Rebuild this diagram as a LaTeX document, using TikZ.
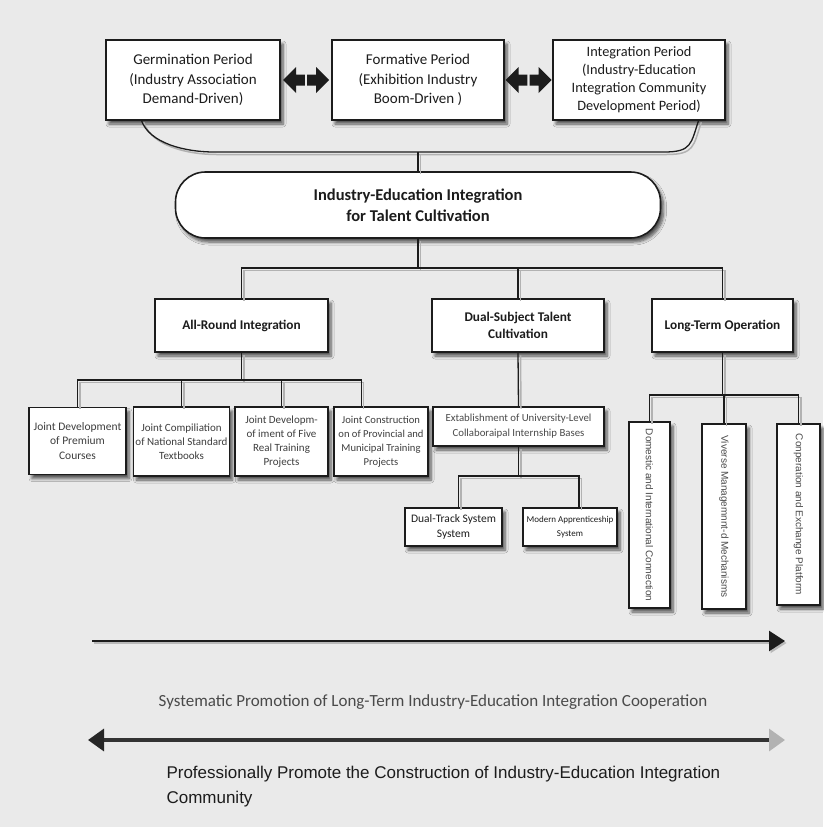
\documentclass[tikz,border=0pt]{standalone}
\usepackage{fontspec}
\setmainfont{Carlito}
\newfontfamily\arialf{Liberation Sans}
\usetikzlibrary{shadows.blur,arrows.meta,calc}

\definecolor{paper}{HTML}{EAEAEA}
\definecolor{ink}{HTML}{1C1C1C}
\definecolor{softink}{HTML}{4A4A4A}

\tikzset{
  box/.style={draw=ink, line width=1.6pt, fill=white, inner sep=2pt, align=center, text=ink,
    blur shadow={shadow xshift=3pt, shadow yshift=-4pt, shadow opacity=65,
                 shadow blur steps=6, shadow blur radius=3pt}},
  link/.style={draw=ink, line width=1.3pt,
    preaction={draw=gray!60, line width=1.5pt, transform canvas={shift={(2.5pt,-2.5pt)}}}},
  toptxt/.style={font=\fontsize{15}{19.5}\selectfont},
  headtxt/.style={font=\bfseries\fontsize{13.3}{16.5}\selectfont},
  smalltxt/.style={font=\fontsize{11}{14}\selectfont, text=ink!85},
  vtxt/.style={font=\arialf\fontsize{10}{12}\selectfont, text=softink},
}

\begin{document}
\begin{tikzpicture}[x=1pt, y=-1pt]
\useasboundingbox (0,0) rectangle (823,827);
\fill[paper] (0,0) rectangle (823,827);

% three development periods
\node[box, toptxt, minimum width=174pt, minimum height=80pt] (g1) at (193,80)
  {Germination Period\\(Industry Association\\Demand-Driven)};
\node[box, toptxt, minimum width=172pt, minimum height=80pt] (g2) at (418,80)
  {Formative Period\\(Exhibition Industry\\Boom-Driven )};
\node[box, minimum width=172pt, minimum height=80pt, font=\fontsize{14.3}{18}\selectfont] (g3) at (639,80)
  {Integration Period\\(Industry-Education\\Integration Community\\Development Period)};

% double-headed arrows between the periods
\foreach \a/\b/\m in {g1/g2/m1, g2/g3/m2}{
  \coordinate (\m) at ($(\a.east)!0.5!(\b.west)$);
  \fill[ink] ($(\m)+(-23,0)$) -- ++(13,-13) -- ++(0,7.5) -- ($(\m)+(-1.2,-5.5)$) -- ($(\m)+(-1.2,5.5)$)
     -- ($(\m)+(-10,5.5)$) -- ++(0,7.5) -- cycle;
  \fill[ink] ($(\m)+(23,0)$) -- ++(-13,-13) -- ++(0,7.5) -- ($(\m)+(1.2,-5.5)$) -- ($(\m)+(1.2,5.5)$)
     -- ($(\m)+(10,5.5)$) -- ++(0,7.5) -- cycle;
}

% bracket gathering the periods
\draw[link] ($(g1.south west)+(36pt,1pt)$) .. controls +(8,24) and +(-28,0) .. (214,152)
  -- (664,152) .. controls +(28,0) and +(-8,24) .. ($(g3.south east)+(-27pt,1pt)$);

% central goal
\node[box, rounded corners=30pt, minimum width=485pt, minimum height=66pt,
      font=\bfseries\fontsize{16.5}{21}\selectfont] (main) at (418,205)
  {Industry-Education Integration\\for Talent Cultivation};
\draw[link] (main.north |- 0,152) -- (main.north);

% three pillars
\node[box, headtxt, minimum width=173pt, minimum height=53pt] (all) at (241.5,325.5) {All-Round Integration};
\node[box, headtxt, minimum width=172pt, minimum height=53pt] (dual) at (518,325.5) {Dual-Subject Talent\\Cultivation};
\node[box, headtxt, minimum width=141pt, minimum height=53pt] (long) at (722.5,325.5) {Long-Term Operation};

\draw[link] (main.south) -- (main.south |- 0,268);
\draw[link] (all.north) |- (long.north |- 0,268) -- (long.north);
\draw[link] (dual.north) -- (dual.north |- 0,268);

% all-round integration branch
\node[box, smalltxt, minimum width=97pt, minimum height=67pt, font=\fontsize{11.5}{14.5}\selectfont] (j1) at (77.5,441)
  {Joint Development\\of Premium\\Courses};
\node[box, smalltxt, minimum width=95pt, minimum height=69pt] (j2) at (181.5,441.5)
  {Joint Compiliation\\of National Standard\\Textbooks};
\node[box, smalltxt, minimum width=93pt, minimum height=69pt] (j3) at (281.5,441.5)
  {Joint Developm-\\of iment of Five\\Real Training\\Projects};
\node[box, smalltxt, minimum width=94pt, minimum height=69pt, font=\fontsize{10.6}{14}\selectfont] (j4) at (381,441.5)
  {Joint Construction\\on of Provincial and\\Municipal Training\\Projects};

\coordinate (j4in) at ($(j4.north west)+(28pt,0)$);
\draw[link] (all.south) -- (all.south |- 0,380);
\draw[link] (j1.north) |- (j4in |- 0,380) -- (j4in);
\draw[link] (j2.north) -- (j2.north |- 0,380);
\draw[link] (j3.north) -- (j3.north |- 0,380);

% dual-subject branch
\node[box, minimum width=171pt, minimum height=39pt, font=\fontsize{10.8}{15}\selectfont, text=softink] (est) at (518.5,426.5)
  {Extablishment of University-Level\\Collaboraipal Internship Bases};
\node[box, minimum width=97pt, minimum height=38pt, font=\fontsize{11.5}{15}\selectfont] (dt) at (453.5,527)
  {Dual-Track System\\System};
\node[box, minimum width=94pt, minimum height=38pt, font=\fontsize{9}{14}\selectfont] (ma) at (570,527)
  {Modern Apprenticeship\\System};

\coordinate (dtin) at ($(dt.north)+(5pt,0)$);
\coordinate (main2) at ($(ma.north)+(9pt,0)$);
\draw[link] (dual.south) -- (est.north);
\draw[link] (est.south) -- (est.south |- 0,476);
\draw[link] (dtin) |- (main2 |- 0,476) -- (main2);

% long-term operation branch
\node[box, vtxt, minimum width=41pt, minimum height=186pt] (v1) at (649.5,515)
  {\rotatebox{-90}{Domestic and International Connection}};
\node[box, vtxt, minimum width=44pt, minimum height=185pt] (v2) at (724,516.5)
  {\rotatebox{-90}{Viverse Managemnnt-d Mechanisms}};
\node[box, vtxt, minimum width=43pt, minimum height=181pt] (v3) at (798.5,514.5)
  {\rotatebox{-90}{Conperation and Exchange Platform}};

\draw[link] (long.south) -- (long.south |- 0,395);
\draw[link] (v1.north) |- (v3.north |- 0,395) -- (v3.north);
\draw[link] (v2.north) -- (v2.north |- 0,395);

% timeline arrows and captions
\coordinate (a1s) at (92,641);
\coordinate (a1e) at (785,641);
\draw[line width=2.6pt, ink, -{Triangle[length=16pt,width=20pt]},
      preaction={draw=gray!55, line width=2pt, transform canvas={shift={(1.5pt,-2pt)}}}] (a1s) -- (a1e);

\node[font=\fontsize{17}{20}\selectfont, text=softink] (t1) at (433,702)
  {Systematic Promotion of Long-Term Industry-Education Integration Cooperation};

\coordinate (a2s) at (88,740);
\coordinate (a2e) at (785,740);
\draw[line width=3.4pt, draw=gray!40!black,
      {Triangle[length=16pt,width=22pt,color=gray!30!black]}-{Triangle[length=16pt,width=22pt,color=gray!60]}]
      (a2s) -- (a2e);

\node[anchor=north west, align=left, font=\arialf\fontsize{17}{25}\selectfont, text=ink] (t2) at (163,763)
  {Professionally Promote the Construction of Industry-Education Integration\\Community};
\end{tikzpicture}
\end{document}
